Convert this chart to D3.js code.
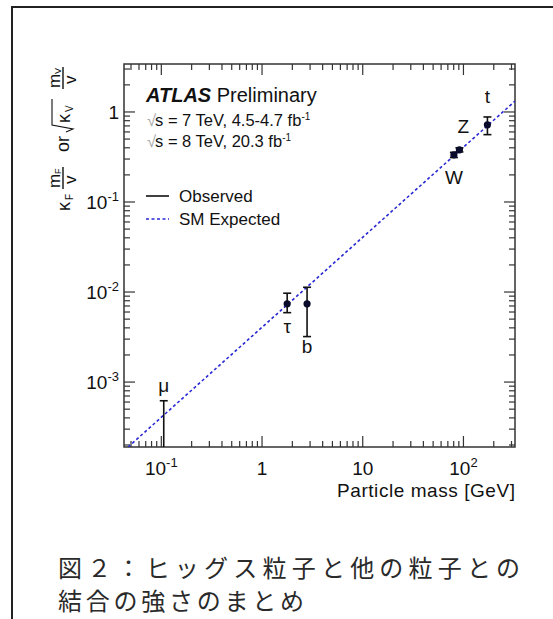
<!DOCTYPE html>
<html>
<head>
<meta charset="utf-8">
<script src="https://cdn.jsdelivr.net/npm/d3@7"></script>
<style>
  body { margin: 0; background: #fff; }
  svg { display: block; }
</style>
</head>
<body>
<svg id="chart" width="553" height="619"></svg>
<script>

/// Data
var particles = ["μ", "τ", "b", "W", "Z", "t"];
var masses    = [0.1057, 1.777, 2.8, 80.4, 91.2, 173];   /// GeV
var values    = [0.0001, 0.0074, 0.0074, 0.333, 0.38, 0.72];
var errLow    = [0.00005, 0.0059, 0.0032, 0.312, 0.36, 0.56];
var errHigh   = [0.00062, 0.0097, 0.0113, 0.356, 0.40, 0.88];

/// SM expected line (end points)
var smMass  = [0.0426, 325];
var smValue = [0.000173, 1.32];

var xMajor = [0.1, 1, 10, 100];
var xMajorLabels = [["10", "-1"], ["1", ""], ["10", ""], ["10", "2"]];
var yMajor = [0.001, 0.01, 0.1, 1];
var yMajorLabels = [["10", "-3"], ["10", "-2"], ["10", "-1"], ["1", ""]];

var legendLines = ["√s = 7 TeV, 4.5-4.7 fb", "√s = 8 TeV, 20.3 fb"];
var caption = ["図２：ヒッグス粒子と他の粒子との", "結合の強さのまとめ"];

var plot = {left: 124, right: 515, top: 64, bottom: 447};
var font = "'Liberation Sans', Arial, Helvetica, sans-serif";
var axisColor = "#333";
var smColor = "#2828d4";

var svg = d3.select("#chart");

/// Outer frame (only top and left are inside the picture)
svg.append("rect")
    .attr("x", 12).attr("y", 7)
    .attr("width", 600).attr("height", 700)
    .attr("fill", "none")
    .attr("stroke", "#222")
    .attr("stroke-width", 2);

var x = d3.scaleLog()
    .domain([0.0426, 325])
    .range([plot.left, plot.right]);
var y = d3.scaleLog()
    .domain([1.9e-4, 3.41])
    .range([plot.bottom, plot.top]);

/// minor ticks 2..9 of every decade inside the domain
function minorTicks(scale){
    var dom = scale.domain(), out = [];
    for (var e = -5; e <= 3; e++)
	for (var k = 2; k <= 9; k++){
	    var v = k * Math.pow(10, e);
	    if (v > dom[0] && v < dom[1]) out.push(v);
	}
    return out;
}

svg.append("clipPath").attr("id", "clip")
    .append("rect")
    .attr("x", plot.left).attr("y", plot.top)
    .attr("width", plot.right - plot.left)
    .attr("height", plot.bottom - plot.top);

/// Frame of the plot
svg.append("rect")
    .attr("x", plot.left).attr("y", plot.top)
    .attr("width", plot.right - plot.left)
    .attr("height", plot.bottom - plot.top)
    .attr("fill", "none")
    .attr("stroke", axisColor)
    .attr("stroke-width", 1.5);

var ticks = svg.append("g")
    .attr("stroke", axisColor)
    .attr("stroke-width", 1.2);

var majLen = 11, minLen = 6;

/// x ticks, bottom and top
[[xMajor, majLen], [minorTicks(x), minLen]].forEach(function(s){
    ticks.selectAll(null).data(s[0]).enter().append("line")
	.attr("x1", d => x(d)).attr("x2", d => x(d))
	.attr("y1", plot.bottom).attr("y2", plot.bottom - s[1]);
    ticks.selectAll(null).data(s[0]).enter().append("line")
	.attr("x1", d => x(d)).attr("x2", d => x(d))
	.attr("y1", plot.top).attr("y2", plot.top + s[1]);
});

/// y ticks, left and right
[[yMajor, majLen], [minorTicks(y), minLen]].forEach(function(s){
    ticks.selectAll(null).data(s[0]).enter().append("line")
	.attr("y1", d => y(d)).attr("y2", d => y(d))
	.attr("x1", plot.left).attr("x2", plot.left + s[1]);
    ticks.selectAll(null).data(s[0]).enter().append("line")
	.attr("y1", d => y(d)).attr("y2", d => y(d))
	.attr("x1", plot.right).attr("x2", plot.right - s[1]);
});

/// Tick labels
var xl = svg.selectAll(".xl")
    .data(xMajor)
    .enter().append("text")
    .attr("class", "xl")
    .attr("x", d => x(d))
    .attr("y", 475)
    .attr("text-anchor", "middle")
    .attr("font-family", font)
    .attr("font-size", 19)
    .attr("fill", "#111");
xl.append("tspan").text((d, i) => xMajorLabels[i][0]);
xl.append("tspan")
    .attr("dy", -8)
    .attr("font-size", 13)
    .text((d, i) => xMajorLabels[i][1]);

var yl = svg.selectAll(".yl")
    .data(yMajor)
    .enter().append("text")
    .attr("class", "yl")
    .attr("x", 119)
    .attr("y", d => y(d) + 7)
    .attr("text-anchor", "end")
    .attr("font-family", font)
    .attr("font-size", 19)
    .attr("fill", "#111");
yl.append("tspan").text((d, i) => yMajorLabels[i][0]);
yl.append("tspan")
    .attr("dy", -8)
    .attr("font-size", 13)
    .text((d, i) => yMajorLabels[i][1]);

/// x axis title
svg.append("text")
    .attr("x", plot.right)
    .attr("y", 497)
    .attr("text-anchor", "end")
    .attr("font-family", font)
    .attr("font-size", 19)
    .attr("textLength", 178)
    .attr("fill", "#111")
    .text("Particle mass [GeV]");

/// y axis title: kF mF/v or sqrt(kV) mV/v, built in a rotated frame
var yt = svg.append("g")
    .attr("transform", "translate(63,214) rotate(-90)")
    .attr("font-family", font)
    .attr("fill", "#111");
function ytext(t, u, w, size){
    yt.append("text").attr("x", u).attr("y", w).attr("font-size", size).text(t);
}
function frac(u, sub){
    ytext("m", u, -3, 17);
    ytext(sub, u + 14, -2, 9);
    ytext("v", u + 4, 13, 17);
    yt.append("line")
	.attr("x1", u - 1).attr("x2", u + 21)
	.attr("y1", 0).attr("y2", 0)
	.attr("stroke", "#111").attr("stroke-width", 1.4);
}
ytext("κ", 3, 7, 18);
ytext("F", 14, 10, 10);
frac(26, "F");
ytext("or", 62, 6, 18);
yt.append("path")
    .attr("d", "M82,3 L85,10 L89,-11 L115,-11")
    .attr("fill", "none")
    .attr("stroke", "#111")
    .attr("stroke-width", 1.1);
ytext("κ", 91, 7, 18);
ytext("V", 102, 10, 10);
frac(126, "V");

/// SM expected line
var line = d3.line()
    .x(d => x(d[0]))
    .y(d => y(d[1]));

var plotArea = svg.append("g").attr("clip-path", "url(#clip)");

plotArea.append("path")
    .datum(d3.zip(smMass, smValue))
    .attr("d", line)
    .attr("fill", "none")
    .attr("stroke", smColor)
    .attr("stroke-width", 1.6)
    .attr("stroke-dasharray", "3,2.5");

/// Error bars and points
var pts = d3.range(particles.length);

plotArea.selectAll(".eb")
    .data(pts)
    .enter().append("line")
    .attr("x1", i => x(masses[i])).attr("x2", i => x(masses[i]))
    .attr("y1", i => y(errLow[i])).attr("y2", i => y(errHigh[i]))
    .attr("stroke", "#111").attr("stroke-width", 1.6);

[errLow, errHigh].forEach(function(e){
    plotArea.selectAll(null)
	.data(pts)
	.enter().append("line")
	.attr("x1", i => x(masses[i]) - 4).attr("x2", i => x(masses[i]) + 4)
	.attr("y1", i => y(e[i])).attr("y2", i => y(e[i]))
	.attr("stroke", "#111").attr("stroke-width", 1.6);
});

plotArea.selectAll(".pt")
    .data(pts)
    .enter().append("circle")
    .attr("cx", i => x(masses[i]))
    .attr("cy", i => y(values[i]))
    .attr("r", 3.6)
    .attr("fill", "#0a0a2a");

/// Particle labels (offsets in px from the point)
var labelDx = [0, 0, 0, 0, 4, 0];
var labelDy = [-9, 29, 49, 29, -17, -22];
var labelRef = [errHigh, values, values, values, values, values];
svg.selectAll(".pl")
    .data(pts)
    .enter().append("text")
    .attr("x", i => x(masses[i]) + labelDx[i])
    .attr("y", i => y(labelRef[i][i]) + labelDy[i])
    .attr("text-anchor", "middle")
    .attr("font-family", font)
    .attr("font-size", 19)
    .attr("fill", "#111")
    .text(i => particles[i]);

/// ATLAS label and legend
var leg = svg.append("g")
    .attr("font-family", font)
    .attr("fill", "#111");

var atl = leg.append("text")
    .attr("x", 146).attr("y", 102)
    .attr("font-size", 20);
atl.append("tspan")
    .attr("font-weight", "bold")
    .attr("font-style", "italic")
    .text("ATLAS");
atl.append("tspan").text(" Preliminary");

legendLines.forEach(function(t, i){
    var tx = leg.append("text")
	.attr("x", 147).attr("y", 126 + i * 21)
	.attr("font-size", 16.5);
    tx.append("tspan").attr("fill", "#aaa").text("√");
    tx.append("tspan").attr("dx", -1).text(t.slice(1));
    tx.append("tspan").attr("dy", -6).attr("font-size", 10).text("-1");
});

leg.append("line")
    .attr("x1", 146).attr("x2", 169)
    .attr("y1", 196).attr("y2", 196)
    .attr("stroke", "#111").attr("stroke-width", 1.6);
leg.append("text")
    .attr("x", 179).attr("y", 202)
    .attr("font-size", 17)
    .text("Observed");

leg.append("line")
    .attr("x1", 146).attr("x2", 169)
    .attr("y1", 219).attr("y2", 219)
    .attr("stroke", smColor).attr("stroke-width", 1.6)
    .attr("stroke-dasharray", "3,2.5");
leg.append("text")
    .attr("x", 179).attr("y", 225)
    .attr("font-size", 17)
    .text("SM Expected");

/// Caption
var capLength = [462, 246];
svg.selectAll(".cap")
    .data(caption)
    .enter().append("text")
    .attr("x", 58)
    .attr("y", (d, i) => 577 + i * 33)
    .attr("font-family", "'Noto Sans CJK JP', sans-serif")
    .attr("font-size", 24)
    .attr("textLength", (d, i) => capLength[i])
    .attr("lengthAdjust", "spacing")
    .attr("fill", "#2a2a2a")
    .text(d => d);

</script>
</body>
</html>
